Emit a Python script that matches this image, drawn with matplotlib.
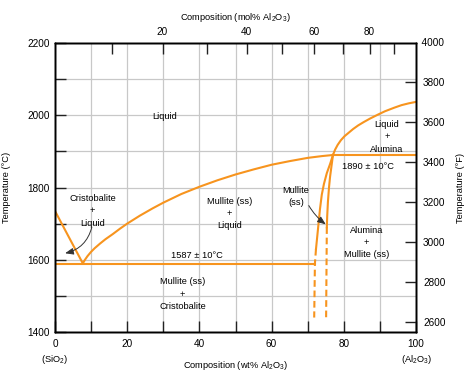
import numpy as np
import matplotlib
matplotlib.use("Agg")
import matplotlib.pyplot as plt

plt.rcParams["font.family"] = ["Liberation Sans", "DejaVu Sans"]
plt.rcParams["mathtext.fontset"] = "custom"
plt.rcParams["mathtext.rm"] = "Liberation Sans"
plt.rcParams["mathtext.it"] = "Liberation Sans"

ORANGE = "#f7941e"
GRIS = "#c8c8c8"

# Liquidus cristobalite
cristo_wt = [0, 7.7]
cristo_T = [1735, 1590]

# Liquidus mullite
mullite_liq_wt = [7.7, 8.3, 9, 10, 11, 12.5, 14, 16, 18, 20, 23.5, 27, 30, 35, 40,
                  45, 50, 55, 60, 65, 70, 74, 77]
mullite_liq_T = [1590, 1600, 1610, 1622, 1632, 1645, 1657, 1671, 1686, 1700, 1722,
                 1742, 1758, 1782, 1802, 1820, 1836, 1850, 1863, 1873, 1882, 1887, 1890]

# Liquidus alumine
alumina_liq_wt = [77, 77.6, 78.3, 79.2, 80.2, 81.4, 82.6, 84, 85.5, 87.3, 89.5, 91.4,
                  94, 96, 98, 100]
alumina_liq_T = [1890, 1905, 1918, 1931, 1942, 1952, 1962, 1972, 1981, 1991, 2002, 2011,
                 2021, 2028, 2033, 2037]

# Mullite (ss), bord gauche
mss_gauche_wt = [77, 76.2, 75.3, 74.5, 73.9, 73.4, 73.0, 72.6, 72.3]
mss_gauche_T = [1890, 1865, 1840, 1810, 1780, 1740, 1700, 1660, 1630]
mss_gauche_tir_wt = [72.3, 72.0, 71.8]
mss_gauche_tir_T = [1630, 1590, 1440]

# Mullite (ss), bord droit
mss_droit_wt = [77, 76.6, 76.2, 75.9, 75.6, 75.4, 75.3]
mss_droit_T = [1890, 1860, 1830, 1800, 1760, 1720, 1690]
mss_droit_tir_wt = [75.3, 75.1]
mss_droit_tir_T = [1690, 1440]

# Paliers
eutectique_wt = [0, 72.0]
eutectique_T = [1587, 1587]
palier_haut_wt = [77, 100]
palier_haut_T = [1890, 1890]

# Axes
temp_C_ticks = [1400, 1600, 1800, 2000, 2200]
temp_F_ticks = [2600, 2800, 3000, 3200, 3400, 3600, 3800]
wt_ticks = [0, 20, 40, 60, 80, 100]
mol_ticks = [10, 20, 30, 40, 50, 60, 70, 80, 90]
mol_labels = ["", "20", "", "40", "", "60", "", "80", ""]


def molVersWt(mol):
    m = np.asarray(mol, dtype=float)
    return 100 * m * 101.96 / (m * 101.96 + (100 - m) * 60.08)


fig = plt.figure(figsize=(4.75, 3.81), dpi=100)
ax = fig.add_axes([55 / 475, 1 - 332 / 381, 361 / 475, 289 / 381])
ax.set_xlim(0, 100)
ax.set_ylim(1400, 2200)

# Grille
for x in range(10, 100, 10):
    ax.axvline(x, color=GRIS, lw=0.9, zorder=0)
for y in range(1500, 2200, 100):
    ax.axhline(y, color=GRIS, lw=0.9, zorder=0)

tick_kw = dict(direction="in", length=8, width=1.0, color="#222222", labelsize=7.2)
ax.set_xticks(range(0, 101, 10))
ax.set_xticklabels([str(v) if v in wt_ticks else "" for v in range(0, 101, 10)])
ax.set_yticks(range(1400, 2201, 100))
ax.set_yticklabels([str(v) if v in temp_C_ticks else "" for v in range(1400, 2201, 100)])
ax.tick_params(axis="x", pad=5, **tick_kw)
ax.tick_params(axis="y", pad=4, **tick_kw)
for s in ax.spines.values():
    s.set_linewidth(1.0)

# Courbes
lw = 1.5
ax.plot(cristo_wt, cristo_T, color=ORANGE, lw=lw)
ax.plot(mullite_liq_wt, mullite_liq_T, color=ORANGE, lw=lw)
ax.plot(alumina_liq_wt, alumina_liq_T, color=ORANGE, lw=lw)
ax.plot(mss_gauche_wt, mss_gauche_T, color=ORANGE, lw=lw)
ax.plot(mss_gauche_tir_wt, mss_gauche_tir_T, color=ORANGE, lw=lw, ls=(0, (3.2, 1.8)))
ax.plot(mss_droit_wt, mss_droit_T, color=ORANGE, lw=lw)
ax.plot(mss_droit_tir_wt, mss_droit_tir_T, color=ORANGE, lw=lw, ls=(0, (3.2, 1.8)))
ax.plot(eutectique_wt, eutectique_T, color=ORANGE, lw=lw)
ax.plot(palier_haut_wt, palier_haut_T, color=ORANGE, lw=lw)

# Textes
fs = 6.7
txt = dict(fontsize=fs, ha="center", va="center", linespacing=1.45)
ax.text(30.5, 1997, "Liquid", **txt)
ax.text(10.4, 1735, "Cristobalite\n+\nLiquid", **txt)
ax.text(48.3, 1728, "Mullite (ss)\n+\nLiquid", **txt)
ax.text(39.4, 1611, "1587 ± 10°C", **txt)
ax.text(35.3, 1505, "Mullite (ss)\n+\nCristobalite", **txt)
ax.text(91.9, 1940, "Liquid\n+\nAlumina", **txt)
ax.text(86.8, 1859, "1890 ± 10°C", **txt)
ax.text(86.3, 1648, "Alumina\n+\nMullite (ss)", **txt)
ax.text(66.8, 1775, "Mullite\n(ss)", **txt)

fleche = dict(arrowstyle="-|>,head_length=0.5,head_width=0.2", color="#333333", lw=0.7,
              shrinkA=0, shrinkB=0)
ax.annotate("", xy=(2.8, 1618), xytext=(10.2, 1690),
            arrowprops=dict(connectionstyle="arc3,rad=-0.3", **fleche))
ax.annotate("", xy=(75.0, 1698), xytext=(70.3, 1750),
            arrowprops=dict(connectionstyle="arc3,rad=0.1", **fleche))

ax.set_xlabel("Composition (wt% Al$_2$O$_3$)", fontsize=fs)
ax.xaxis.set_label_coords(0.5, -0.093)
ax.set_ylabel("Temperature (°C)", fontsize=fs)
ax.yaxis.set_label_coords(-0.122, 0.5)
ax.text(0, -0.095, "(SiO$_2$)", transform=ax.transAxes, fontsize=fs, ha="center", va="center")
ax.text(1, -0.095, "(Al$_2$O$_3$)", transform=ax.transAxes, fontsize=fs, ha="center", va="center")

# Axe du haut : mol%
axh = ax.twiny()
axh.set_xlim(0, 100)
axh.set_xticks(molVersWt(mol_ticks))
axh.set_xticklabels(mol_labels)
axh.tick_params(axis="x", pad=4, **tick_kw)
axh.set_xlabel("Composition (mol% Al$_2$O$_3$)", fontsize=fs)
axh.xaxis.set_label_coords(0.5, 1.08)

# Axe de droite : °F
axd = ax.twinx()
axd.set_ylim(1400 * 9 / 5 + 32, 2200 * 9 / 5 + 32)
axd.set_yticks(temp_F_ticks)
axd.tick_params(axis="y", pad=5, **tick_kw)
axd.text(1.0, 1.0, "  4000", transform=axd.transAxes, fontsize=7.2, ha="left", va="center")
axd.set_ylabel("Temperature (°F)", fontsize=fs)
axd.yaxis.set_label_coords(1.11, 0.5)
for a in (axh, axd):
    for s in a.spines.values():
        s.set_linewidth(1.0)

fig.savefig("out.png", dpi=100)
